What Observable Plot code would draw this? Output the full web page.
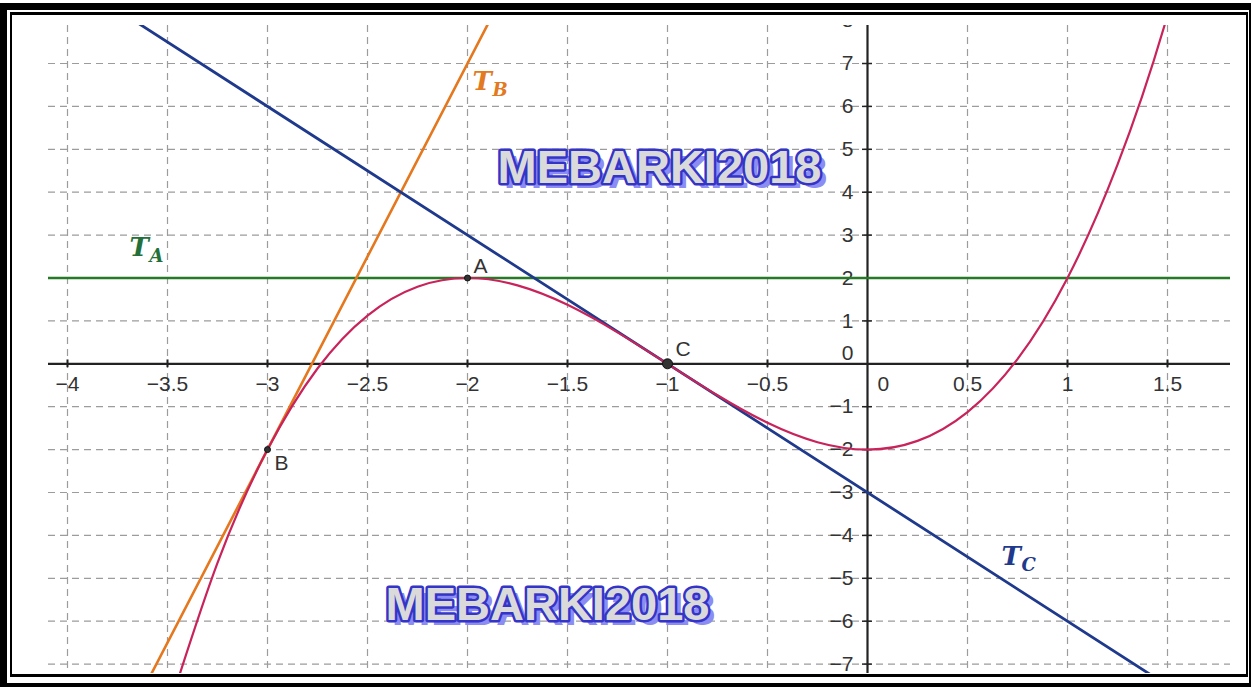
<!DOCTYPE html>
<html>
<head>
<meta charset="utf-8">
<script src="https://cdn.jsdelivr.net/npm/d3@7"></script>
<script src="https://cdn.jsdelivr.net/npm/@observablehq/plot@0.6"></script>
<style>
  html, body { margin: 0; padding: 0; background: #fff; }
  #page { position: relative; width: 1251px; height: 687px; overflow: hidden; background: #fff; }
  #chart { position: absolute; left: 48px; top: 25px; width: 1182px; height: 648px; overflow: hidden; }
  .edge { position: absolute; background: #000; }
</style>
</head>
<body>
<div id="page">
  <div id="chart"></div>
  <!-- double picture frame -->
  <div class="edge" style="left:0;top:3px;width:1251px;height:7px"></div>
  <div class="edge" style="left:0;top:3px;width:7px;height:684px"></div>
  <div class="edge" style="left:0;top:683px;width:1251px;height:4px"></div>
  <div class="edge" style="left:1249px;top:3px;width:2px;height:684px"></div>
  <div class="edge" style="left:10px;top:12px;width:1238px;height:3px"></div>
  <div class="edge" style="left:10px;top:12px;width:2px;height:665px"></div>
  <div class="edge" style="left:10px;top:674px;width:1238px;height:3px"></div>
  <div class="edge" style="left:1246px;top:12px;width:2px;height:665px"></div>
</div>
<script>
// Curve f(x) = x³ + 3x² − 2, values at every quarter unit
const curveX = [-3.5, -3.25, -3, -2.75, -2.5, -2.25, -2, -1.75, -1.5, -1.25, -1,
                -0.75, -0.5, -0.25, 0, 0.25, 0.5, 0.75, 1, 1.25, 1.5, 1.75];
const curveY = [-8.125, -4.641, -2, -0.109, 1.125, 1.797, 2, 1.828, 1.375, 0.734, 0,
                -0.734, -1.375, -1.828, -2, -1.797, -1.125, 0.109, 2, 4.641, 8.125, 12.547];

// Tangent lines (end points beyond the visible window)
const tangentA = [[-4.3, 2], [2.0, 2]];          // y = 2
const tangentB = [[-3.7, -8.3], [-1.8, 8.8]];     // y = 9x + 25
const tangentC = [[-4.3, 9.9], [1.7, -8.1]];      // y = -3x - 3

// Named points
const pointNames = ["A", "B", "C"];
const pointX = [-2, -3, -1];
const pointY = [2, -2, 0];

// Axis ticks and labels
const xTicks = [-4, -3.5, -3, -2.5, -2, -1.5, -1, -0.5, 0.5, 1, 1.5];
const xTickLabels = ["−4", "−3.5", "−3", "−2.5", "−2", "−1.5", "−1", "−0.5", "0.5", "1", "1.5"];
const yTicks = [-7, -6, -5, -4, -3, -2, -1, 1, 2, 3, 4, 5, 6, 7, 8];
const yTickLabels = ["−7", "−6", "−5", "−4", "−3", "−2", "−1", "1", "2", "3", "4", "5", "6", "7", "8"];
const xGrid = [-4, -3.5, -3, -2.5, -2, -1.5, -1, -0.5, 0.5, 1, 1.5];
const yGrid = [-7, -6, -5, -4, -3, -2, -1, 1, 2, 3, 4, 5, 6, 7];

// Tangent labels
const tangentNames = ["A", "B", "C"];
const tangentLabelX = [-3.69, -1.975, 0.67];
const tangentLabelY = [2.52, 6.38, -4.68];
const tangentColors = ["#24703a", "#e27a22", "#1f3a8c"];

// Watermarks
const stampText = ["MEBARKI2018", "MEBARKI2018"];
const stampX = [-1.04, -1.6];
const stampY = [4.57, -5.62];

const curve = curveX.map((x, i) => ({x, y: curveY[i]}));
const toPts = (arr) => arr.map(([x, y]) => ({x, y}));
const points = pointNames.map((n, i) => ({name: n, x: pointX[i], y: pointY[i]}));
const xTickData = xTicks.map((v, i) => ({x: v, label: xTickLabels[i]}));
const yTickData = yTicks.map((v, i) => ({y: v, label: yTickLabels[i]}));
const tLabels = tangentNames.map((n, i) => ({sub: n, x: tangentLabelX[i], y: tangentLabelY[i], color: tangentColors[i]}));
const stamps = stampText.map((t, i) => ({t, x: stampX[i], y: stampY[i]}));

const labelFont = "Liberation Sans, Arial, sans-serif";
const mathFont = "DejaVu Serif, Liberation Serif, serif";

const chart = Plot.plot({
  width: 1182,
  height: 648,
  margin: 0,
  x: {type: "linear", domain: [-4.095, 1.815], axis: null},
  y: {type: "linear", domain: [-7.219, 7.886], axis: null},
  style: {background: "transparent", overflow: "hidden"},
  marks: [
    // dashed grid
    Plot.ruleX(xGrid, {stroke: "#9c9c9c", strokeWidth: 1.2, strokeDasharray: "7,5"}),
    Plot.ruleY(yGrid, {stroke: "#9c9c9c", strokeWidth: 1.2, strokeDasharray: "7,5"}),
    // axes
    Plot.ruleY([0], {stroke: "#222", strokeWidth: 2.2}),
    Plot.ruleX([0], {stroke: "#222", strokeWidth: 2.2}),
    Plot.ruleX(xTicks, {y1: -0.09, y2: 0.09, stroke: "#222", strokeWidth: 2}),
    Plot.ruleY(yTicks, {x1: -0.025, x2: 0.025, stroke: "#222", strokeWidth: 1.5}),
    // tick labels
    Plot.text(xTickData, {x: "x", y: () => 0, text: "label", dy: 20, lineAnchor: "middle",
      fontSize: 21, fontFamily: labelFont, fill: "#333"}),
    Plot.text(["0"], {x: () => 0, y: () => 0, text: d => d, dx: 10, dy: 20, textAnchor: "start",
      lineAnchor: "middle", fontSize: 21, fontFamily: labelFont, fill: "#333"}),
    Plot.text(yTickData, {x: () => 0, y: "y", text: "label", dx: -14, textAnchor: "end",
      lineAnchor: "middle", fontSize: 21, fontFamily: labelFont, fill: "#333"}),
    Plot.text(["0"], {x: () => 0, y: () => 0, text: d => d, dx: -14, dy: -11, textAnchor: "end",
      lineAnchor: "middle", fontSize: 21, fontFamily: labelFont, fill: "#333"}),
    // watermarks: shadow, then outlined text
    Plot.text(stamps, {x: "x", y: "y", text: "t", dx: 6, dy: 5, fontSize: 47, fontWeight: "bold",
      fontFamily: labelFont, fill: "#8c8cf2", lineAnchor: "middle"}),
    Plot.text(stamps, {x: "x", y: "y", text: "t", fontSize: 47, fontWeight: "bold",
      fontFamily: labelFont, fill: "#dadada", stroke: "#3434c8", strokeWidth: 5,
      strokeLinejoin: "round", lineAnchor: "middle"}),
    // tangents
    Plot.line(toPts(tangentA), {x: "x", y: "y", stroke: "#267a26", strokeWidth: 2.4, clip: true}),
    Plot.line(toPts(tangentB), {x: "x", y: "y", stroke: "#e5781e", strokeWidth: 2.6, clip: true}),
    Plot.line(toPts(tangentC), {x: "x", y: "y", stroke: "#1f3a8c", strokeWidth: 2.8, clip: true}),
    // the curve
    Plot.line(curve, {x: "x", y: "y", curve: "natural", stroke: "#c8235a", strokeWidth: 2.2, clip: true}),
    // named points
    Plot.dot(points.filter(p => p.name !== "C"), {x: "x", y: "y", r: 3, fill: "#333", stroke: "#111", strokeWidth: 1}),
    Plot.dot(points.filter(p => p.name === "C"), {x: "x", y: "y", r: 5, fill: "#333", stroke: "#111", strokeWidth: 1}),
    Plot.text(points.filter(p => p.name === "A"), {x: "x", y: "y", text: "name", dx: 6, dy: -5,
      textAnchor: "start", lineAnchor: "bottom", fontSize: 21, fontFamily: labelFont, fill: "#333"}),
    Plot.text(points.filter(p => p.name === "B"), {x: "x", y: "y", text: "name", dx: 7, dy: 5,
      textAnchor: "start", lineAnchor: "top", fontSize: 21, fontFamily: labelFont, fill: "#333"}),
    Plot.text(points.filter(p => p.name === "C"), {x: "x", y: "y", text: "name", dx: 8, dy: -8,
      textAnchor: "start", lineAnchor: "bottom", fontSize: 21, fontFamily: labelFont, fill: "#333"}),
    // tangent names T with subscripts
    Plot.text(tLabels, {x: "x", y: "y", text: () => "T", textAnchor: "start", lineAnchor: "bottom",
      fontSize: 26, fontStyle: "italic", fontWeight: "bold", fontFamily: mathFont, fill: "color"}),
    Plot.text(tLabels, {x: "x", y: "y", text: "sub", dx: 20, dy: 6, textAnchor: "start", lineAnchor: "bottom",
      fontSize: 18, fontStyle: "italic", fontWeight: "bold", fontFamily: mathFont, fill: "color"})
  ]
});

document.getElementById("chart").appendChild(chart);
</script>
</body>
</html>
